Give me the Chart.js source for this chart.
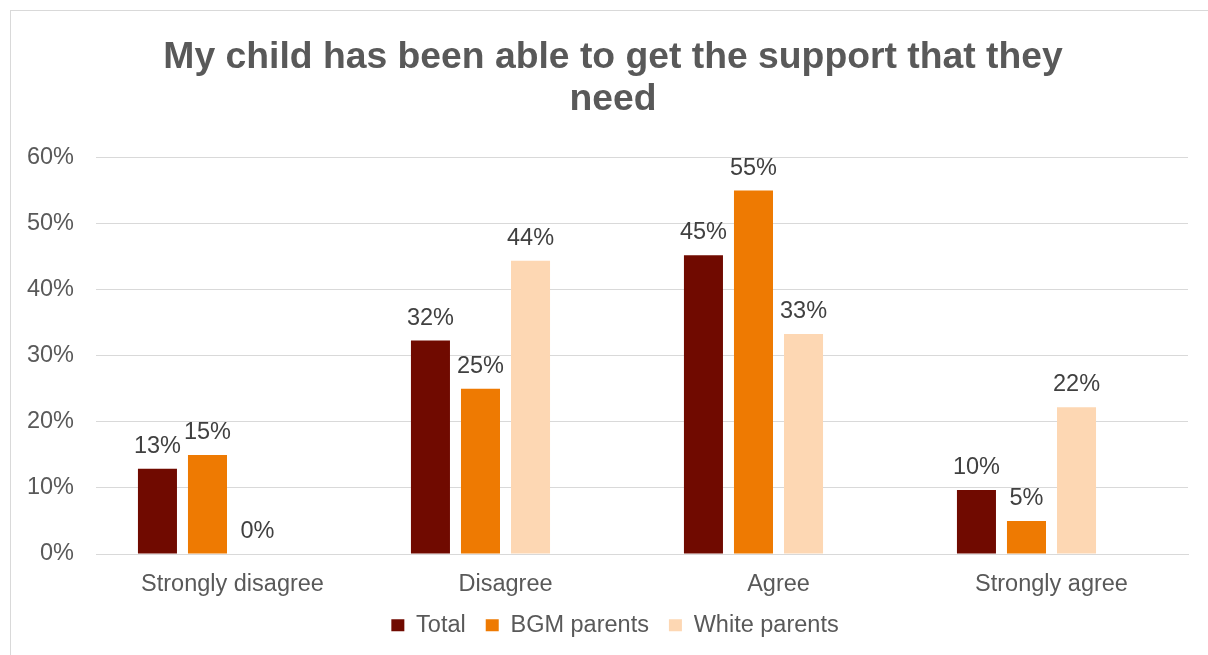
<!DOCTYPE html>
<html>
<head>
<meta charset="utf-8">
<script src="https://cdn.jsdelivr.net/npm/chart.js@4/dist/chart.umd.min.js"></script>
<style>
  html, body { margin: 0; padding: 0; background: #fff; overflow: hidden; width: 1208px; height: 655px; }
  #frame { position: absolute; left: 10px; top: 10px; width: 1300px; height: 800px; border: 1px solid #d9d9d9; box-sizing: border-box; }
  #wrap { position: absolute; left: 1px; top: 1px; width: 1197px; height: 644px; }
</style>
</head>
<body>
<div id="frame"><div id="wrap"><canvas id="c" width="1197" height="644"></canvas></div></div>
<script>
// Survey responses (% of respondents)
const categories = ['Strongly disagree', 'Disagree', 'Agree', 'Strongly agree'];
const totalValues = [12.9, 32.3, 45.2, 9.7];
const bgmValues = [15, 25, 55, 5];
const whiteValues = [0, 44.4, 33.3, 22.2];
// empty fourth series: keeps its slot in each group, never drawn or listed
const blankValues = [null, null, null, null];
const seriesNames = ['Total', 'BGM parents', 'White parents'];
const yTickMax = 60;
const yTickStep = 10;

const FONT = '"Liberation Sans", Arial, sans-serif';

// Writes the rounded percentage above each bar
const valueLabels = {
  id: 'valueLabels',
  afterDatasetsDraw(chart) {
    const ctx = chart.ctx;
    ctx.save();
    ctx.font = '23.5px ' + FONT;
    ctx.fillStyle = '#404040';
    ctx.textAlign = 'center';
    ctx.textBaseline = 'alphabetic';
    chart.data.datasets.forEach((ds, i) => {
      const meta = chart.getDatasetMeta(i);
      meta.data.forEach((bar, j) => {
        const v = ds.data[j];
        if (v === null || v === undefined) return;
        ctx.fillText(Math.round(v) + '%', bar.x, bar.y - 16);
      });
    });
    ctx.restore();
  }
};

// Nudges the title and legend boxes after layout
const boxNudge = {
  id: 'boxNudge',
  afterLayout(chart) {
    const t = chart.titleBlock;
    if (t) { t.left = 26; t.right = chart.width - 21; }
    const l = chart.legend;
    if (l) {
      l.left += 15; l.right += 15;
      l.top -= 4.5; l.bottom -= 4.5;
    }
  }
};

new Chart(document.getElementById('c'), {
  type: 'bar',
  data: {
    labels: categories,
    datasets: [
      { label: seriesNames[0], data: totalValues, backgroundColor: '#700A00' },
      { label: seriesNames[1], data: bgmValues, backgroundColor: '#EE7A02' },
      { label: seriesNames[2], data: whiteValues, backgroundColor: '#FDD7B3' },
      { label: '', data: blankValues, backgroundColor: 'rgba(0,0,0,0)' }
    ]
  },
  options: {
    responsive: false,
    animation: false,
    devicePixelRatio: 1,
    layout: { padding: { left: 0, right: 21, top: 0, bottom: 4.5 } },
    datasets: { bar: { categoryPercentage: 0.733, barPercentage: 0.78 } },
    plugins: {
      title: {
        display: true,
        text: ['My child has been able to get the support that they', 'need'],
        color: '#595959',
        font: { family: FONT, size: 37.3, weight: 'bold', lineHeight: 1.12 },
        padding: { top: 25, bottom: 37 }
      },
      legend: {
        display: true,
        position: 'bottom',
        labels: {
          color: '#595959',
          font: { family: FONT, size: 23.5 },
          boxWidth: 13,
          boxHeight: 12,
          padding: 20,
          filter: item => item.text !== ''
        }
      },
      tooltip: { enabled: false }
    },
    scales: {
      x: {
        grid: { display: false, drawTicks: false },
        border: { display: true, color: '#d9d9d9', width: 1 },
        ticks: { color: '#595959', font: { family: FONT, size: 23.5 }, padding: 16, maxRotation: 0 },
        afterFit(scale) { scale.height = 44; }
      },
      y: {
        min: 0,
        max: yTickMax,
        ticks: {
          stepSize: yTickStep,
          color: '#595959',
          font: { family: FONT, size: 23.5 },
          padding: 22,
          callback: v => v + '%'
        },
        grid: { color: '#d9d9d9', lineWidth: 1, drawTicks: false },
        border: { display: false },
        afterFit(scale) { scale.width = 84; }
      }
    }
  },
  plugins: [valueLabels, boxNudge]
});
</script>
</body>
</html>
